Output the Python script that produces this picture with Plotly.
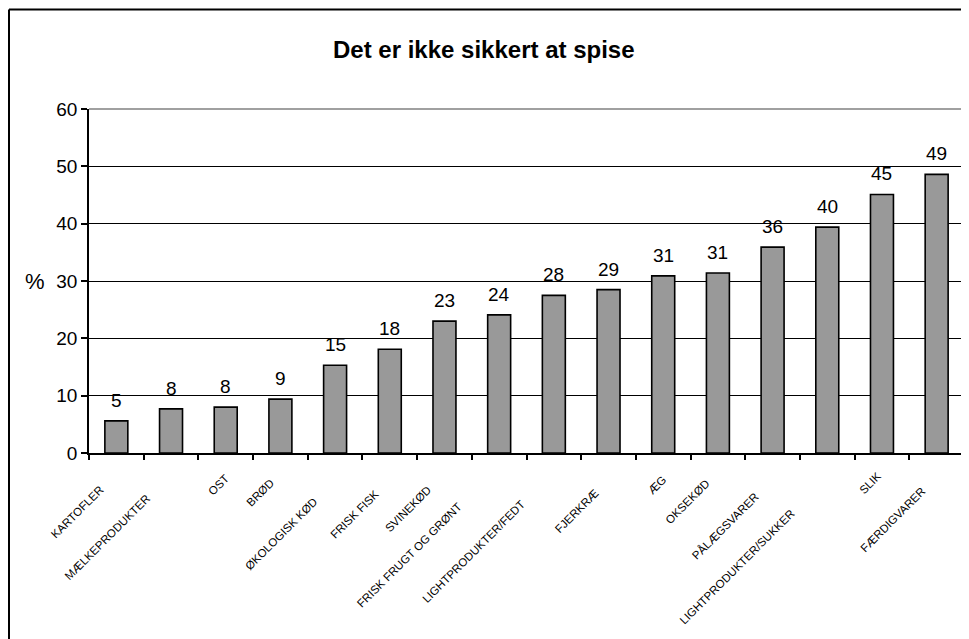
import plotly.graph_objects as go

categories = ["KARTOFLER", "MÆLKEPRODUKTER", "OST", "BRØD", "ØKOLOGISK KØD",
              "FRISK FISK", "SVINEKØD", "FRISK FRUGT OG GRØNT", "LIGHTPRODUKTER/FEDT",
              "FJERKRÆ", "ÆG", "OKSEKØD", "PÅLÆGSVARER", "LIGHTPRODUKTER/SUKKER",
              "SLIK", "FÆRDIGVARER"]
values = [5.6, 7.7, 8.0, 9.4, 15.3, 18.1, 23.0, 24.1, 27.5, 28.5, 30.9, 31.4,
          35.9, 39.4, 45.1, 48.6]
value_labels = ["5", "8", "8", "9", "15", "18", "23", "24", "28", "29", "31", "31",
                "36", "40", "45", "49"]
y_ticks = [0, 10, 20, 30, 40, 50, 60]
title_text = "Det er ikke sikkert at spise"
y_title = "%"

# layout: staggered placement of the rotated category labels (pixel offsets of label end)
label_dx = [-14, -22, 2, -8, -19, -12, -15, -39, -31, -11, 2, -10, -15, -34, -2, -13]
label_dy = [35, 44, 24, 29, 47, 39, 35, 52, 50, 39, 25, 29, 42, 59, 22, 37]

FONT = "Liberation Sans, Arial, sans-serif"

# the page body has an 8px margin, so the figure is drawn 8px smaller and offset
OFF = 8
W, H = 969 - OFF, 639 - OFF
L, T = 89 - OFF, 109 - OFF
R = W - (964 - OFF)
B = H - (453 - OFF)
pw, ph = W - L - R, H - T - B

fig = go.Figure()
fig.add_trace(go.Bar(
    x=categories, y=values,
    marker=dict(color="#999999", line=dict(color="black", width=1.6)),
    width=0.42, hoverinfo="x+y", showlegend=False,
))

annotations = []
for c, v, t in zip(categories, values, value_labels):
    annotations.append(dict(x=c, y=v, xref="x", yref="y", text=t, showarrow=False,
                            yanchor="bottom", xanchor="center", yshift=8,
                            font=dict(family=FONT, size=19, color="black")))
for c, dx, dy in zip(categories, label_dx, label_dy):
    annotations.append(dict(x=c, y=0, xref="x", yref="y", text=c, showarrow=False,
                            textangle=-45, xanchor="right", yanchor="top",
                            xshift=dx + 5, yshift=-(dy - 6), borderpad=0,
                            font=dict(family=FONT, size=11.5, color="black")))
annotations.append(dict(x=-(L - (35 - OFF)) / pw, y=30, xref="paper", yref="y", text=y_title,
                        showarrow=False, xanchor="center", yanchor="middle",
                        font=dict(family=FONT, size=22, color="black")))
annotations.append(dict(x=(484 - OFF - L) / pw, y=(H - B - (50 - OFF)) / ph, xref="paper", yref="paper",
                        text="<b>" + title_text + "</b>", showarrow=False,
                        xanchor="center", yanchor="middle",
                        font=dict(family=FONT, size=24, color="black")))

fx = (1 - L) / pw
fy = (H - B - 1.5) / ph
shapes = [
    # plot-area top and right border (gray)
    dict(type="line", xref="paper", yref="paper", x0=0, x1=1, y0=1, y1=1,
         line=dict(color="#808080", width=1.5)),
    dict(type="line", xref="paper", yref="paper", x0=1, x1=1, y0=0, y1=1,
         line=dict(color="#808080", width=1.5)),
    # outer chart frame (left and top visible)
    dict(type="line", xref="paper", yref="paper",
         x0=fx, x1=fx, y0=fy, y1=-(B + 20) / ph,
         line=dict(color="black", width=2)),
    dict(type="line", xref="paper", yref="paper",
         x0=fx, x1=(W + 20 - L) / pw, y0=fy, y1=fy,
         line=dict(color="black", width=2)),
]

fig.update_layout(
    width=W, height=H,
    margin=dict(l=L, r=R, t=T, b=B, pad=0, autoexpand=False),
    paper_bgcolor="white", plot_bgcolor="white",
    font=dict(family=FONT, color="black"),
    annotations=annotations,
    shapes=shapes,
    xaxis=dict(type="category", categoryorder="array", categoryarray=categories,
               range=[-0.5, len(categories) - 0.5],
               showticklabels=False, showline=True, linecolor="black", linewidth=1.5,
               ticks="outside", tickson="boundaries", ticklen=5, tickcolor="black",
               tickwidth=1.5, showgrid=False, zeroline=False),
    yaxis=dict(range=[0, 60], tickvals=y_ticks, showline=True, linecolor="black",
               linewidth=1.5, ticks="outside", ticklen=6, tickcolor="black", tickwidth=1.5,
               showgrid=True, gridcolor="black", gridwidth=1, zeroline=False,
               tickfont=dict(family=FONT, size=19, color="black")),
)

fig.write_html("out.html")
